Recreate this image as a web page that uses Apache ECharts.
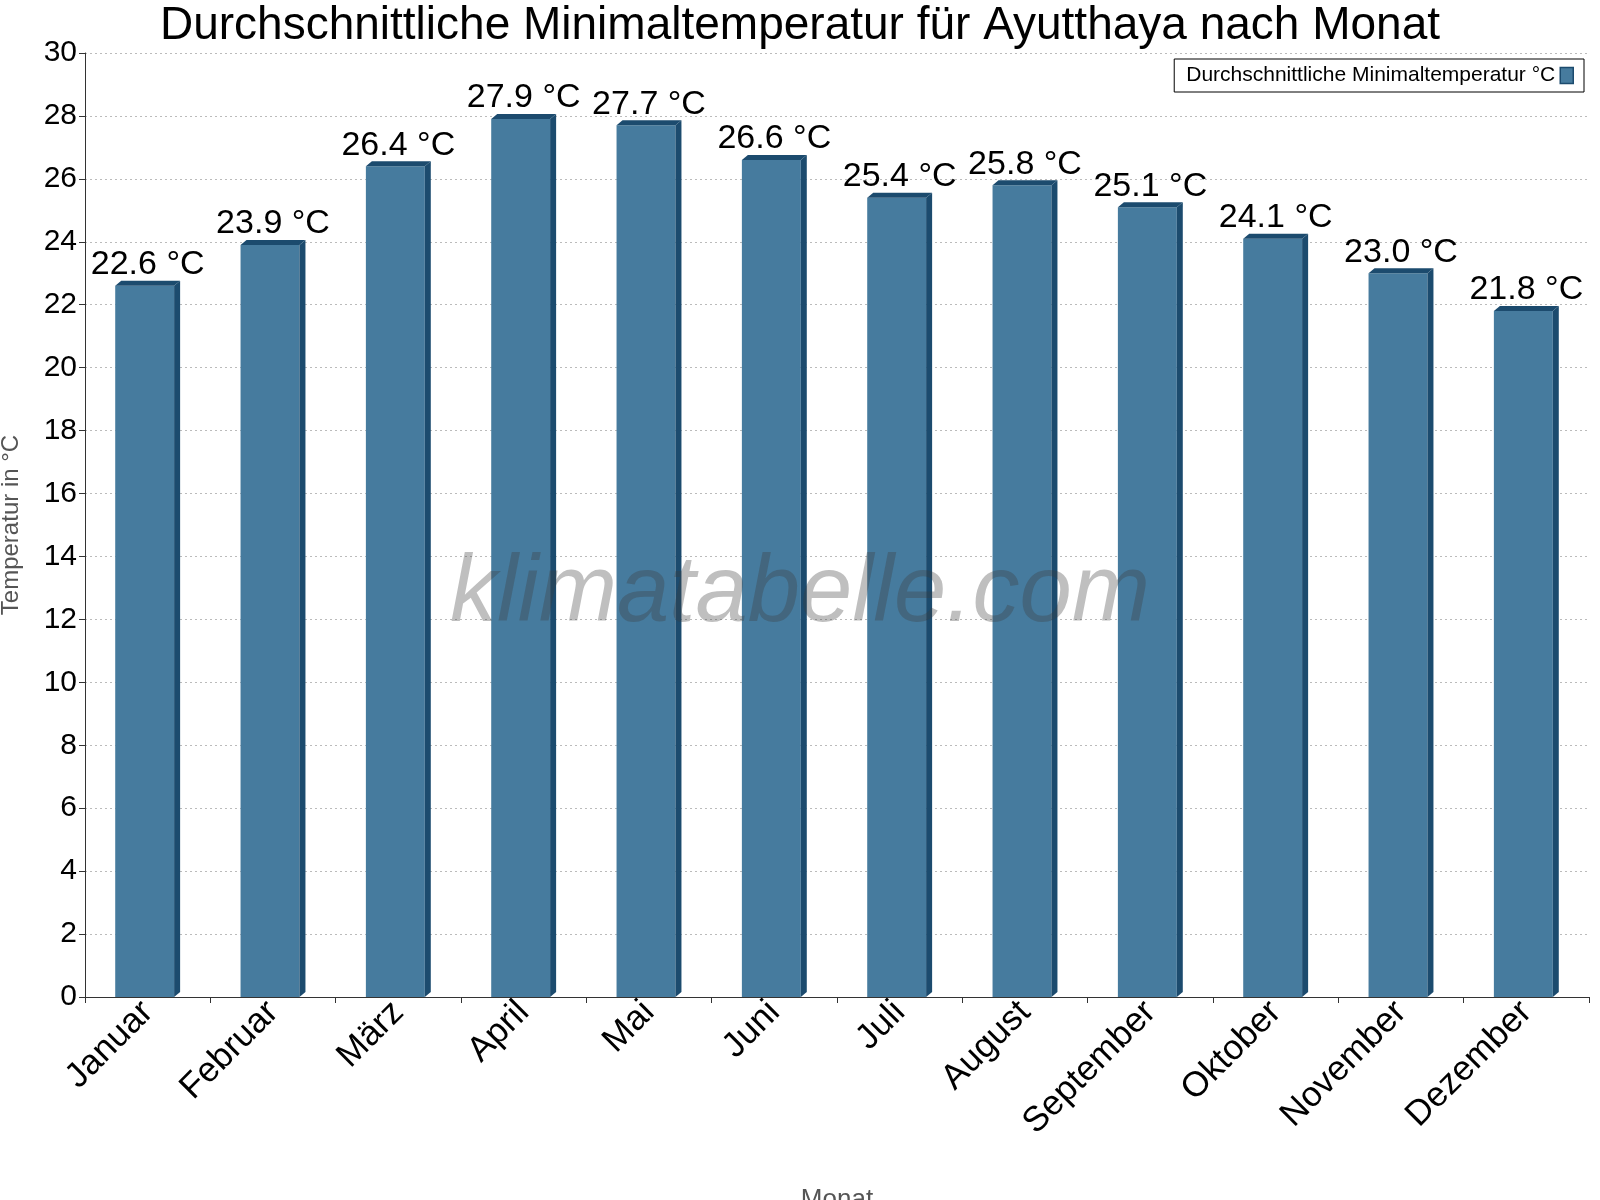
<!DOCTYPE html>
<html><head><meta charset="utf-8">
<script src="https://cdn.jsdelivr.net/npm/echarts@6/dist/echarts.min.js"></script>
<style>html,body{margin:0;padding:0;background:#fff}#c{width:1600px;height:1200px}</style>
</head><body><div id="c"></div>
<script>
const months = ['Januar','Februar','März','April','Mai','Juni','Juli','August','September','Oktober','November','Dezember'];
const values = [22.6,23.9,26.4,27.9,27.7,26.6,25.4,25.8,25.1,24.1,23.0,21.8];
const yTicks = [0,2,4,6,8,10,12,14,16,18,20,22,24,26,28,30];
const seriesName = 'Durchschnittliche Minimaltemperatur °C';

const chart = echarts.init(document.getElementById('c'));
const front = '#467b9e', dark = '#1c4b6e';
chart.setOption({
  animation:false,
  title:{text:'Durchschnittliche Minimaltemperatur für Ayutthaya nach Monat',left:'center',top:-2,
    textStyle:{fontFamily:'Liberation Sans, Arial',fontSize:46,fontWeight:'normal',color:'#000'}},
  graphic:[{type:'text',left:'center',top:548,z:100,silent:true,
    style:{text:'klimatabelle.com',font:'italic 94px "Liberation Sans", Arial',fill:'rgba(60,60,60,0.33)',x:0,y:0}}],
  legend:{right:16,top:59,itemWidth:13,itemHeight:16,borderColor:'#000',borderWidth:1,borderRadius:0,
    padding:[6,10,6,12],align:'right',
    textStyle:{fontFamily:'Liberation Sans, Arial',fontSize:21,color:'#000'},
    data:[{name:seriesName,icon:'rect',itemStyle:{color:front,borderColor:dark,borderWidth:1.5}}]},
  grid:{left:85,right:11,top:53,bottom:203,outerBoundsMode:'none',containLabel:false},
  xAxis:{type:'category',data:months,name:'Monat',nameLocation:'middle',nameGap:190,
    nameTextStyle:{fontFamily:'Liberation Sans, Arial',fontSize:26,color:'#555'},
    axisLine:{lineStyle:{color:'#333'}},axisTick:{show:true,length:6,lineStyle:{color:'#333'}},
    axisLabel:{rotate:45,fontFamily:'Liberation Sans, Arial',fontSize:35,color:'#000',margin:10,interval:0}},
  yAxis:{type:'value',min:0,max:30,interval:2,name:'Temperatur in °C',nameLocation:'middle',nameGap:62,
    nameTextStyle:{fontFamily:'Liberation Sans, Arial',fontSize:24,color:'#555'},
    axisLine:{show:true,lineStyle:{color:'#333'}},axisTick:{show:true,length:6},
    axisLabel:{fontFamily:'Liberation Sans, Arial',fontSize:30,color:'#000',
      formatter:v=>yTicks.includes(v)?String(v):''},
    splitLine:{lineStyle:{color:'#bbb',type:[2,3]}}},
  series:[{name:seriesName,type:'custom',itemStyle:{color:front},
    renderItem:function(params,api){
      const i=api.value(0), v=api.value(1);
      const top=api.coord([i,v]), base=api.coord([i,0]);
      const bw=api.size([1,0])[0]*0.47, d=6, t=5;
      const x0=top[0]-bw/2-3, x1=x0+bw;
      return {type:'group',children:[
        {type:'rect',shape:{x:x0,y:top[1],width:bw,height:base[1]-top[1]},style:{fill:front}},
        {type:'polygon',shape:{points:[[x1,top[1]],[x1+d,top[1]-t],[x1+d,base[1]-t],[x1,base[1]]]},style:{fill:dark}},
        {type:'polygon',shape:{points:[[x0,top[1]],[x0+d,top[1]-t],[x1+d,top[1]-t],[x1,top[1]]]},style:{fill:dark}},
        {type:'text',x:top[0],y:top[1]-4,style:{text:v.toFixed(1)+' °C',align:'center',verticalAlign:'bottom',
          font:'34px "Liberation Sans", Arial',fill:'#000'}}
      ]};
    },
    encode:{x:0,y:1},
    data:values.map((v,i)=>[i,v])}]
});
</script></body></html>
